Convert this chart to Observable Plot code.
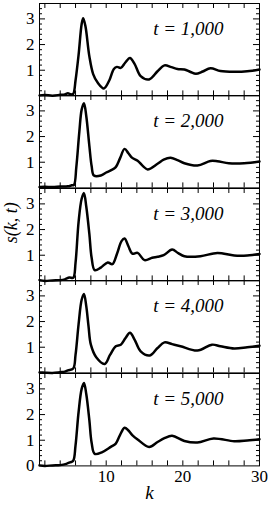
<!DOCTYPE html>
<html>
<head>
<meta charset="utf-8">
<script src="https://cdn.jsdelivr.net/npm/d3@7"></script>
<script src="https://cdn.jsdelivr.net/npm/@observablehq/plot@0.6"></script>
<style>
  html, body { margin: 0; padding: 0; background: white; }
  #chart { position: relative; width: 273px; height: 506px; }
  #chart svg { position: absolute; left: 0; }
</style>
</head>
<body>
<div id="chart"></div>
<script>
// ---- data ----
const times = ["t = 1,000", "t = 2,000", "t = 3,000", "t = 4,000", "t = 5,000"];

const k1 = [1.3, 2, 3, 4, 4.6, 5.0, 5.4, 5.7, 6.0, 6.4, 6.8, 7.0, 7.3, 7.8, 8.3, 8.9, 9.7, 10.4, 11.0, 11.4, 11.9, 12.5, 13.1, 13.7, 14.5, 15.6, 16.7, 17.6, 18.5, 19.3, 20.2, 21.0, 21.7, 22.6, 23.6, 24.9, 26.7, 28.4, 30];
const s1 = [0.02, 0.03, 0.01, 0.04, 0.06, 0.10, 0.06, 0.08, 0.6, 1.6, 2.8, 3.03, 2.7, 1.55, 0.85, 0.51, 0.29, 0.6, 1.05, 1.13, 1.09, 1.3, 1.48, 1.25, 0.77, 0.64, 0.96, 1.19, 1.12, 1.05, 1.03, 0.93, 0.86, 0.95, 1.08, 0.97, 0.94, 0.96, 1.03];

const k2 = [1.3, 2, 3, 4, 5, 5.5, 5.8, 6.1, 6.5, 6.8, 7.1, 7.4, 7.8, 8.1, 8.4, 9.3, 10.0, 10.6, 11.25, 11.8, 12.4, 12.9, 13.4, 14.1, 14.8, 15.4, 16.7, 17.5, 18.4, 19.3, 20.2, 21.9, 23.6, 24.5, 26, 28, 30];
const s2 = [0.03, 0.04, 0.03, 0.05, 0.06, 0.1, 0.12, 0.8, 2.2, 3.05, 3.30, 2.8, 1.65, 0.85, 0.48, 0.48, 0.6, 0.68, 0.81, 1.15, 1.52, 1.35, 1.17, 1.06, 0.85, 0.72, 0.94, 1.1, 1.17, 1.08, 0.96, 0.87, 1.05, 1.04, 0.96, 0.96, 1.03];

const k3 = [1.3, 2, 3, 4, 4.6, 5.2, 5.7, 6.0, 6.4, 6.8, 7.1, 7.4, 7.8, 8.1, 8.5, 9.3, 10.2, 10.8, 11.4, 12.0, 12.4, 12.9, 13.4, 14.1, 15.0, 16.0, 16.7, 17.5, 18.6, 19.4, 20.2, 22.3, 24.5, 26.7, 28.4, 30];
const s3 = [0.03, 0.0, 0.02, 0.03, 0.06, 0.13, 0.12, 0.7, 2.3, 3.2, 3.42, 2.9, 1.84, 0.9, 0.42, 0.52, 0.72, 0.65, 1.05, 1.55, 1.65, 1.35, 1.06, 1.09, 0.81, 0.9, 0.94, 1.0, 1.22, 1.08, 0.96, 0.96, 1.09, 0.99, 0.99, 1.05];

const k4 = [1.3, 2, 3, 4, 4.6, 5.0, 5.7, 6.0, 6.4, 6.8, 7.1, 7.4, 7.7, 8.0, 8.7, 9.8, 10.5, 11.25, 11.9, 12.5, 13.1, 13.7, 14.5, 15.7, 16.7, 17.6, 18.6, 19.7, 21.9, 23.8, 24.9, 26.7, 28.4, 30];
const s4 = [0.02, 0.01, 0.0, 0.03, 0.05, 0.1, 0.17, 0.7, 1.9, 2.85, 3.07, 2.6, 1.8, 1.1, 0.61, 0.35, 0.7, 1.04, 1.1, 1.35, 1.56, 1.3, 0.84, 0.68, 0.97, 1.19, 1.12, 1.04, 0.87, 1.10, 1.04, 0.95, 1.0, 1.06];

const k5 = [1.3, 2, 3, 4, 4.8, 5.3, 5.7, 6.0, 6.4, 6.8, 7.1, 7.4, 7.8, 8.1, 8.5, 9.5, 10.6, 11.25, 11.8, 12.4, 12.9, 13.4, 14.1, 15.6, 16.7, 17.6, 18.6, 20.2, 21.9, 24.0, 26.7, 28.4, 30];
const s5 = [0.02, 0.0, 0.02, 0.03, 0.08, 0.14, 0.2, 0.8, 2.1, 3.0, 3.23, 2.8, 1.79, 0.9, 0.47, 0.54, 0.74, 0.87, 1.2, 1.49, 1.38, 1.2, 1.03, 0.74, 0.93, 1.08, 1.17, 0.97, 0.91, 1.07, 0.96, 0.99, 1.04];

const kSeries = [k1, k2, k3, k4, k5];
const sSeries = [s1, s2, s3, s4, s5];

const xTickLabels = [10, 20, 30];
const yTickLabels = [1, 2, 3];
const yTickLabelsBottom = [0, 1, 2, 3];
const xMinorTicks = d3.range(2, 30, 2);
const yMajorTicks = [1, 2, 3];
const yMinorTicks = d3.range(1, 18).map(i => +(i * 0.2).toFixed(1)).filter(v => !yMajorTicks.includes(v));

// ---- layout ----
const W = 273, ML = 39, MR = 14, TOP = 3, PH = 92.4;
const FONT = "Liberation Serif";
const chart = document.getElementById("chart");

kSeries.forEach((ks, i) => {
  const last = i === 4;
  const mt = 6, mb = last ? 40 : 6;
  const data = ks.map((k, j) => ({k, s: sSeries[i][j]}));
  const marks = [
    Plot.tickX(xMinorTicks, {x: d => d, insetTop: PH - 5, stroke: "black", strokeWidth: 1}),
    Plot.tickX(xMinorTicks, {x: d => d, insetBottom: PH - 5, stroke: "black", strokeWidth: 1}),
    Plot.tickY(yMajorTicks, {y: d => d, insetRight: W - ML - MR - 6, stroke: "black", strokeWidth: 1}),
    Plot.tickY(yMajorTicks, {y: d => d, insetLeft: W - ML - MR - 6, stroke: "black", strokeWidth: 1}),
    Plot.tickY(yMinorTicks, {y: d => d, insetRight: W - ML - MR - 3, stroke: "black", strokeWidth: 1}),
    Plot.tickY(yMinorTicks, {y: d => d, insetLeft: W - ML - MR - 3, stroke: "black", strokeWidth: 1}),
    Plot.axisY({ticks: last ? yTickLabelsBottom : yTickLabels, tickFormat: d3.format("d"), tickSize: 0, tickPadding: 5, label: null, fontSize: 17, fontFamily: FONT}),
    Plot.line(data, {x: "k", y: "s", curve: "catmull-rom", stroke: "black", strokeWidth: 2.5}),
    Plot.frame({stroke: "black", strokeWidth: 1}),
    Plot.text([times[i]], {text: d => d, frameAnchor: "top-right", textAnchor: "end", lineAnchor: "middle", dx: -36, dy: 25, fontSize: 19, fontStyle: "italic", fontFamily: FONT})
  ];
  if (last) {
    marks.push(Plot.axisX({ticks: xTickLabels, tickFormat: d3.format("d"), tickSize: 0, tickPadding: 4, label: null, fontSize: 17, fontFamily: FONT}));
    marks.push(Plot.text(["k"], {text: d => d, frameAnchor: "bottom", lineAnchor: "middle", dy: 27, fontSize: 19, fontStyle: "italic", fontFamily: FONT}));
  } else {
    marks.push(Plot.axisX({ticks: [], label: null}));
  }
  if (i === 2) {
    marks.push(Plot.text(["s(k, t)"], {text: d => d, frameAnchor: "left", rotate: -90, textAnchor: "middle", lineAnchor: "middle", dx: -28, dy: -12, fontSize: 18, fontStyle: "italic", fontFamily: FONT}));
  }
  const svg = Plot.plot({
    width: W,
    height: PH + mt + mb,
    marginTop: mt,
    marginBottom: mb,
    marginLeft: ML,
    marginRight: MR,
    x: {domain: [1.3, 30]},
    y: {domain: [0, 3.6]},
    style: {background: "transparent", overflow: "visible", color: "black", fontFamily: FONT},
    marks
  });
  svg.setAttribute("font-family", FONT);
  svg.querySelectorAll("text").forEach(t => t.style.fontFamily = "'Liberation Serif', serif");
  svg.style.top = (TOP + PH * i - mt) + "px";
  chart.appendChild(svg);
});
</script>
</body>
</html>
